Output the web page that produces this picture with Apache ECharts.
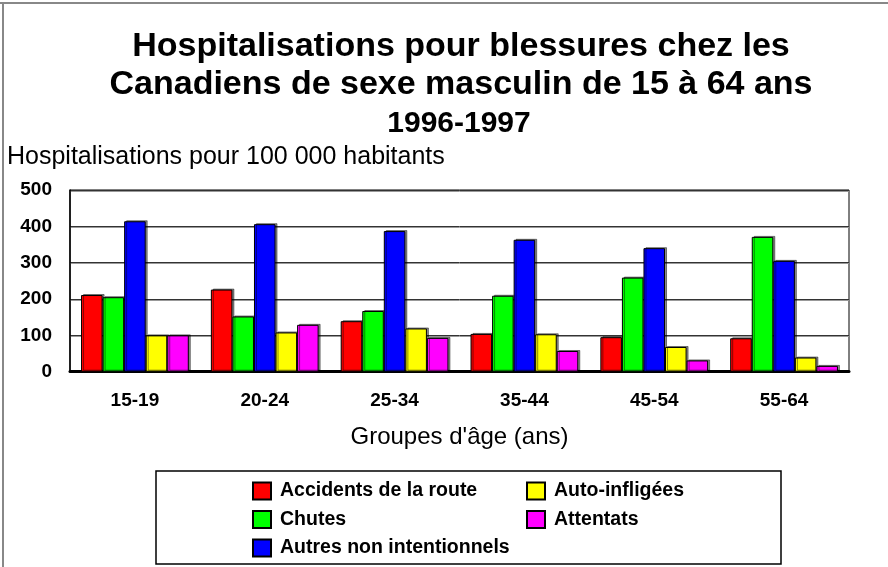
<!DOCTYPE html>
<html>
<head>
<meta charset="utf-8">
<script src="https://cdn.jsdelivr.net/npm/echarts@6/dist/echarts.min.js"></script>
<style>
  html, body { margin: 0; padding: 0; background: #fff; }
  #chart { width: 888px; height: 567px; }
</style>
</head>
<body>
<div id="chart"></div>
<script>
// Age groups along the x axis
const ageGroups = ['15-19', '20-24', '25-34', '35-44', '45-54', '55-64'];

// Hospitalisations per 100 000 population, by injury cause
const accidentsRoute = [211, 226, 139, 104, 95, 92];
const chutes = [205, 152, 167, 209, 259, 371];
const autresNonIntentionnels = [414, 406, 387, 363, 340, 305];
const autoInfligees = [100, 108, 119, 103, 68, 39];
const attentats = [100, 129, 93, 57, 31, 16];

// Y axis ticks
const yTicks = [0, 100, 200, 300, 400, 500];

const FONT = '"Liberation Sans", Arial, Helvetica, sans-serif';

const seriesDefs = [
  { name: 'Accidents de la route', data: accidentsRoute, color: '#ff0000' },
  { name: 'Chutes', data: chutes, color: '#00ff00' },
  { name: 'Autres non intentionnels', data: autresNonIntentionnels, color: '#0000ff' },
  { name: 'Auto-infligées', data: autoInfligees, color: '#ffff00' },
  { name: 'Attentats', data: attentats, color: '#ff00ff' }
];

const chart = echarts.init(document.getElementById('chart'), null, { renderer: 'canvas' });

const legendText = {
  fontFamily: FONT, fontSize: 19.5, fontWeight: 'bold', color: '#000',
  lineHeight: 17, padding: [0, 0, 0, 4]
};

const legendCommon = {
  orient: 'vertical', top: 481, height: 80, padding: 0,
  icon: 'rect', itemWidth: 18, itemHeight: 17, itemGap: 8.5,
  textStyle: legendText, selectedMode: false
};

chart.setOption({
  backgroundColor: '#fff',
  animation: false,
  title: [
    {
      text: 'Hospitalisations pour blessures chez les\nCanadiens de sexe masculin de 15 à 64 ans',
      left: 461, top: 28, textAlign: 'center', padding: 0,
      textStyle: { fontFamily: FONT, fontSize: 34, fontWeight: 'bold', color: '#000', lineHeight: 38 }
    },
    {
      text: '1996-1997',
      left: 459, top: 109, textAlign: 'center', padding: 0,
      textStyle: { fontFamily: FONT, fontSize: 30, fontWeight: 'bold', color: '#000', lineHeight: 30 }
    },
    {
      text: 'Hospitalisations pour 100 000 habitants',
      left: 7, top: 145, padding: 0,
      textStyle: { fontFamily: FONT, fontSize: 25, fontWeight: 'normal', color: '#000', lineHeight: 25 }
    }
  ],
  legend: [
    Object.assign({ data: ['Accidents de la route', 'Chutes', 'Autres non intentionnels'], left: 252 }, legendCommon),
    Object.assign({ data: ['Auto-infligées', 'Attentats'], left: 526 }, legendCommon)
  ],
  grid: {
    left: 70, right: 39, top: 190, bottom: 195.3,
    show: true, borderColor: '#000', borderWidth: 1, backgroundColor: '#fff'
  },
  xAxis: {
    type: 'category',
    data: ageGroups,
    name: "Groupes d'âge (ans)",
    nameLocation: 'middle',
    nameGap: 54,
    nameTextStyle: { fontFamily: FONT, fontSize: 24, color: '#000' },
    axisLine: { lineStyle: { color: '#000', width: 3 } },
    axisTick: { show: false },
    axisLabel: { fontFamily: FONT, fontSize: 19, fontWeight: 'bold', color: '#000', margin: 20 }
  },
  yAxis: {
    type: 'value',
    min: yTicks[0], max: yTicks[yTicks.length - 1], interval: yTicks[1] - yTicks[0],
    axisLine: { show: true, lineStyle: { color: '#000', width: 1.5 } },
    axisTick: { show: false },
    axisLabel: { fontFamily: FONT, fontSize: 19, fontWeight: 'bold', color: '#000', margin: 18 },
    splitLine: { show: true, lineStyle: { color: '#333', width: 1, shadowColor: '#999', shadowOffsetY: 1 } }
  },
  series: seriesDefs.map(s => ({
    name: s.name,
    type: 'bar',
    data: s.data,
    barGap: '0%',
    barCategoryGap: '17%',
    itemStyle: {
      color: s.color, borderColor: '#000', borderWidth: 1,
      shadowColor: 'rgba(0,0,0,0.45)', shadowOffsetX: 2, shadowOffsetY: -1, shadowBlur: 0
    }
  })),
  graphic: [
    // page frame (top and left edges)
    { type: 'line', shape: { x1: 0, y1: 3, x2: 888, y2: 3 }, style: { stroke: '#888', lineWidth: 2 } },
    { type: 'line', shape: { x1: 3, y1: 3, x2: 3, y2: 567 }, style: { stroke: '#888', lineWidth: 2 } },
    // legend box
    { type: 'rect', shape: { x: 156, y: 471, width: 625, height: 93 }, style: { fill: 'none', stroke: '#000', lineWidth: 1.5 }, z: -1 }
  ]
});
</script>
</body>
</html>
